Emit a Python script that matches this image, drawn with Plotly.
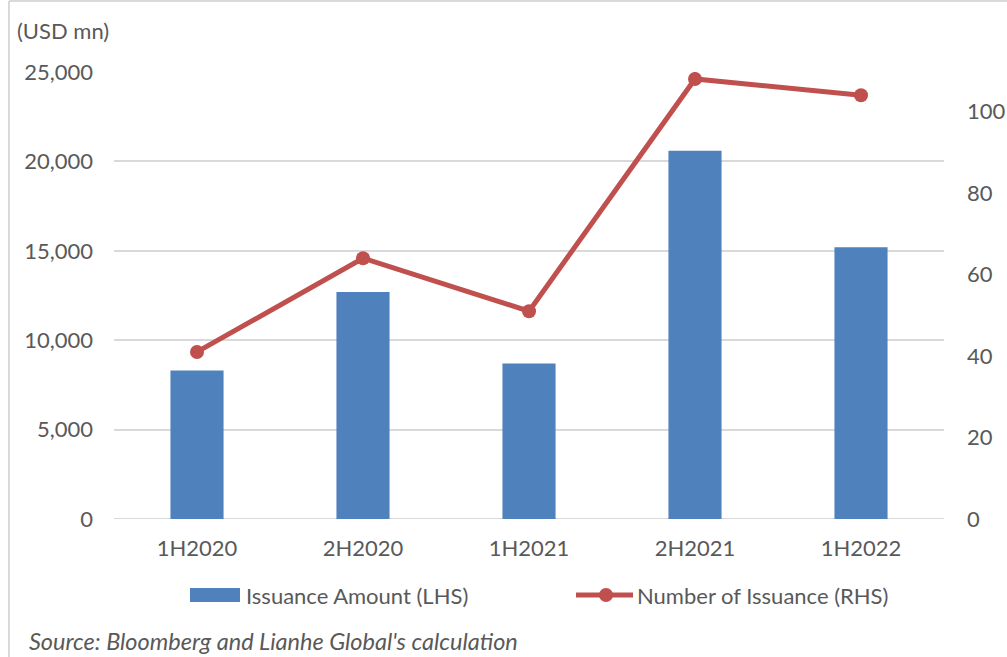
import plotly.graph_objects as go

# Half-year periods and the two series
periods = ["1H2020", "2H2020", "1H2021", "2H2021", "1H2022"]
issuance_amount = [8300, 12700, 8700, 20600, 15200]   # USD mn, left axis
issuance_count = [41, 64, 51, 108, 104]                # number of deals, right axis

left_ticks = [0, 5000, 10000, 15000, 20000, 25000]
left_ticktext = ["0", "5,000", "10,000", "15,000", "20,000", "25,000"]
right_ticks = [0, 20, 40, 60, 80, 100]

BAR_NAME = "Issuance Amount (LHS)"
LINE_NAME = "Number of Issuance (RHS)"

BLUE = "#4F81BD"
RED = "#C0504D"
GREY_TXT = "#595959"
GRID = "#D9D9D9"
FONT = "Lato"
FS = 22
LINE_W = 5
MARKER = 14

W, H = 1007, 657
L, R, T, B = 114, 63, 72, 138
plot_w, plot_h = W - L - R, H - T - B


def px_x(x):
    return (x - L) / plot_w


def px_y(y):
    return (H - B - y) / plot_h


fig = go.Figure()

fig.add_trace(go.Bar(
    x=periods, y=issuance_amount, name=BAR_NAME,
    marker=dict(color=BLUE, line=dict(width=0)),
    yaxis="y", showlegend=False,
))

fig.add_trace(go.Scatter(
    x=periods, y=issuance_count, name=LINE_NAME,
    mode="lines+markers",
    line=dict(color=RED, width=LINE_W),
    marker=dict(color=RED, size=MARKER),
    yaxis="y2", showlegend=False,
))

# Legend keys drawn in pixel space below the plot
legend_y = 595
legend_shapes = [
    dict(type="rect", xref="paper", yref="paper",
         x0=px_x(190), x1=px_x(240), y0=px_y(602), y1=px_y(588),
         fillcolor=BLUE, line=dict(width=0)),
    dict(type="line", xref="paper", yref="paper",
         x0=px_x(576), x1=px_x(633), y0=px_y(legend_y), y1=px_y(legend_y),
         line=dict(color=RED, width=LINE_W)),
    dict(type="circle", xref="paper", yref="paper",
         x0=px_x(606 - MARKER / 2), x1=px_x(606 + MARKER / 2),
         y0=px_y(legend_y + MARKER / 2), y1=px_y(legend_y - MARKER / 2),
         fillcolor=RED, line=dict(width=0)),
]
legend_labels = [
    dict(text=BAR_NAME, x=px_x(244), y=px_y(legend_y), xref="paper", yref="paper",
         xanchor="left", yanchor="middle", showarrow=False,
         font=dict(family=FONT, size=FS, color=GREY_TXT)),
    dict(text=LINE_NAME, x=px_x(635), y=px_y(legend_y), xref="paper", yref="paper",
         xanchor="left", yanchor="middle", showarrow=False,
         font=dict(family=FONT, size=FS, color=GREY_TXT)),
]

fig.update_layout(
    width=W, height=H,
    margin=dict(l=L, r=R, t=T, b=B, autoexpand=False),
    paper_bgcolor="white", plot_bgcolor="white",
    font=dict(family=FONT, size=FS, color=GREY_TXT),
    bargap=0.68,
    showlegend=False,
    xaxis=dict(
        showgrid=False, showline=False, zeroline=False, automargin=False,
        ticks="", tickfont=dict(size=FS, color=GREY_TXT),
        ticklabelstandoff=14,
    ),
    yaxis=dict(
        range=[0, 25000], tickvals=left_ticks, ticktext=left_ticktext,
        showgrid=True, gridcolor=GRID, gridwidth=2, automargin=False,
        zeroline=False, showline=False, ticks="",
        tickfont=dict(size=FS, color=GREY_TXT),
        ticklabelstandoff=20,
    ),
    yaxis2=dict(
        range=[0, 109.7], tickvals=right_ticks, automargin=False,
        overlaying="y", side="right",
        showgrid=False, zeroline=False, showline=False, ticks="",
        tickfont=dict(size=FS, color=GREY_TXT),
        ticklabelstandoff=22,
    ),
    annotations=[
        dict(text="(USD mn)", x=px_x(15), y=px_y(31), xref="paper", yref="paper",
             xanchor="left", yanchor="middle", showarrow=False,
             font=dict(family=FONT, size=FS, color=GREY_TXT)),
        dict(text="<i>Source: Bloomberg and Lianhe Global's calculation</i>",
             x=px_x(27), y=px_y(641), xref="paper", yref="paper",
             xanchor="left", yanchor="middle", showarrow=False,
             font=dict(family=FONT, size=23.5, color=GREY_TXT)),
    ] + legend_labels,
    shapes=[
        # chart frame edges
        dict(type="line", xref="paper", yref="paper",
             x0=px_x(9), x1=px_x(9), y0=px_y(1), y1=px_y(H),
             line=dict(color=GRID, width=2)),
        dict(type="line", xref="paper", yref="paper",
             x0=px_x(9), x1=px_x(W), y0=px_y(1), y1=px_y(1),
             line=dict(color=GRID, width=2)),
        # baseline
        dict(type="line", xref="paper", yref="y",
             x0=0, x1=1, y0=0, y1=0, layer="below",
             line=dict(color=GRID, width=2)),
    ] + legend_shapes,
)

fig.write_html("out.html")
